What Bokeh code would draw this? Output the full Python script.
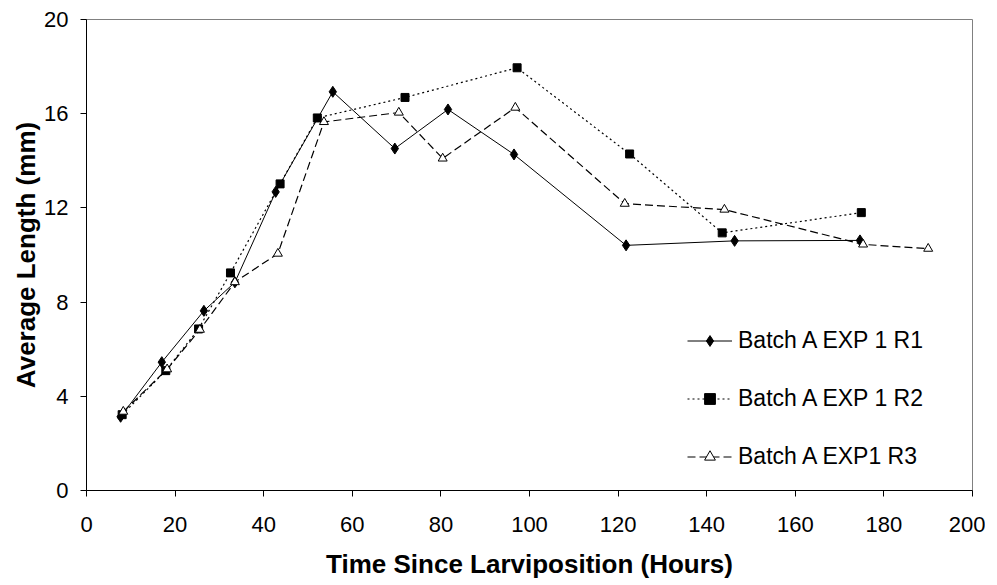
import numpy as np
from bokeh.plotting import figure
from bokeh.models import FixedTicker, Range1d, Legend, LegendItem
from bokeh.embed import file_html
from bokeh.resources import INLINE

# ---- data ----
r1_x = [7.7, 17.0, 26.5, 33.5, 42.7, 55.6, 69.6, 81.6, 96.5, 121.8, 146.3, 174.6]
r1_y = [3.13, 5.45, 7.63, 8.84, 12.68, 16.93, 14.52, 16.18, 14.27, 10.41, 10.6, 10.62]

r2_x = [8.05, 17.9, 25.3, 32.5, 43.7, 52.1, 71.9, 97.2, 122.6, 143.5, 174.9]
r2_y = [3.22, 5.09, 6.86, 9.24, 13.02, 15.82, 16.69, 17.95, 14.29, 10.94, 11.8]

r3_x = [8.3, 18.2, 25.6, 33.5, 43.2, 53.6, 70.5, 80.4, 96.8, 121.5, 144.0, 175.3, 190.0]
r3_y = [3.35, 5.15, 6.83, 8.85, 10.06, 15.65, 16.05, 14.1, 16.26, 12.18, 11.93, 10.45, 10.27]

labels = ["Batch A EXP 1 R1", "Batch A EXP 1 R2", "Batch A EXP1 R3"]
x_ticks = [0, 20, 40, 60, 80, 100, 120, 140, 160, 180, 200]
y_ticks = [0, 4, 8, 12, 16, 20]

FONT = "Liberation Sans"

p = figure(width=985, height=585, output_backend="svg", toolbar_location=None,
           x_range=Range1d(0, 200), y_range=Range1d(0, 20),
           min_border_left=86, min_border_right=13, min_border_top=19, min_border_bottom=95)
p.background_fill_color = "white"
p.border_fill_color = "white"
p.outline_line_color = "#808080"
p.outline_line_width = 1
p.grid.visible = False

for ax in (p.xaxis[0], p.yaxis[0]):
    ax.axis_line_color = "black"
    ax.major_tick_line_color = "black"
    ax.major_tick_out = 6
    ax.major_tick_in = 0
    ax.minor_tick_line_color = None
    ax.major_label_text_font = FONT
    ax.major_label_text_font_size = "22px"
    ax.major_label_text_color = "black"
    ax.axis_label_text_font = FONT
    ax.axis_label_text_font_style = "bold"
    ax.axis_label_text_font_size = "26px"
    ax.axis_label_text_color = "black"

p.xaxis.ticker = FixedTicker(ticks=x_ticks)
p.yaxis.ticker = FixedTicker(ticks=y_ticks)
p.xaxis.axis_label = "Time Since Larviposition (Hours)"
p.yaxis.axis_label = "Average Length (mm)"
p.xaxis.major_label_standoff = 20
p.xaxis.axis_label_standoff = 14
p.yaxis.major_label_standoff = 12
p.yaxis.axis_label_standoff = 0

l1 = p.line(r1_x, r1_y, line_color="black", line_width=1)
s1 = p.scatter(r1_x, r1_y, marker="diamond", size=11,
               fill_color="black", line_color="black")
l2 = p.line(r2_x, r2_y, line_color="black", line_width=1.2, line_dash="2 3")
s2 = p.scatter(r2_x, r2_y, marker="square", size=8, fill_color="black", line_color="black")
l3 = p.line(r3_x, r3_y, line_color="black", line_width=1.2, line_dash="8 4")
s3 = p.scatter(r3_x, r3_y, marker="triangle", size=9, fill_color="white",
               line_color="black", line_width=1)

legend = Legend(items=[
    LegendItem(label=labels[0], renderers=[l1, s1]),
    LegendItem(label=labels[1], renderers=[l2, s2]),
    LegendItem(label=labels[2], renderers=[l3, s3]),
], location=(601, 20))
legend.border_line_color = None
legend.background_fill_alpha = 0
legend.padding = 0
legend.margin = 0
legend.glyph_width = 45
legend.glyph_height = 27
legend.label_height = 27
legend.spacing = 31
legend.label_standoff = 6
legend.label_text_font = FONT
legend.label_text_font_size = "23px"
legend.label_text_color = "black"
p.add_layout(legend, "center")

open("out.html", "w").write(file_html(p, INLINE))
